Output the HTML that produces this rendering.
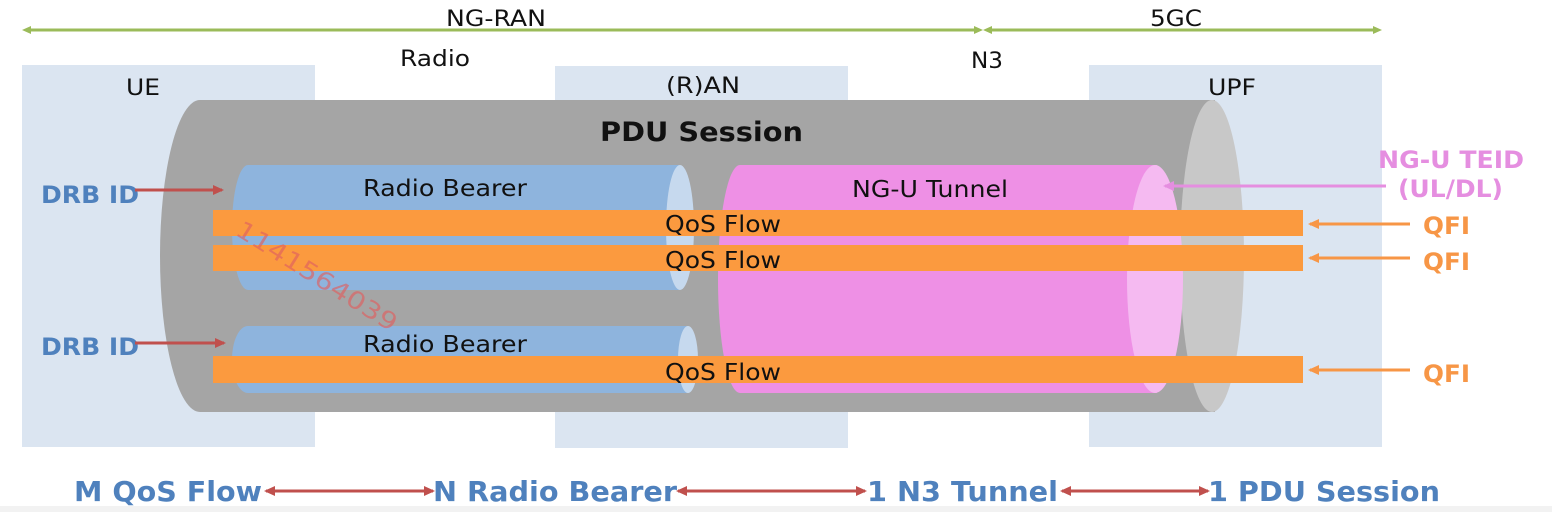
<!DOCTYPE html>
<html><head><meta charset="utf-8"><style>
html,body{margin:0;padding:0;background:#fff;width:1552px;height:512px;overflow:hidden}
svg{display:block}
text{font-family:"DejaVu Sans","Liberation Sans",sans-serif}
</style></head><body>
<svg width="1552" height="512" viewBox="0 0 1552 512" xmlns="http://www.w3.org/2000/svg">
<defs>
<marker id="g" markerWidth="10" markerHeight="10" refX="5" refY="5" orient="auto-start-reverse" markerUnits="userSpaceOnUse"><path d="M0,1 L9,5 L0,9 z" fill="#9bbb59"/></marker>
<marker id="r" markerWidth="12" markerHeight="12" refX="9" refY="6" orient="auto-start-reverse" markerUnits="userSpaceOnUse"><path d="M0,1 L11,6 L0,11 z" fill="#c0504d"/></marker>
<marker id="o" markerWidth="12" markerHeight="12" refX="9" refY="6" orient="auto" markerUnits="userSpaceOnUse"><path d="M0,1 L11,6 L0,11 z" fill="#f79646"/></marker>
<marker id="p" markerWidth="12" markerHeight="12" refX="9" refY="6" orient="auto" markerUnits="userSpaceOnUse"><path d="M0,1 L11,6 L0,11 z" fill="#e58ee0"/></marker>
</defs>
<line x1="26" y1="30" x2="979" y2="30" stroke="#9bbb59" stroke-width="3" marker-start="url(#g)" marker-end="url(#g)"/>
<line x1="987" y1="30" x2="1378" y2="30" stroke="#9bbb59" stroke-width="3" marker-start="url(#g)" marker-end="url(#g)"/>
<text x="446" y="26" font-size="22" textLength="100" lengthAdjust="spacingAndGlyphs" fill="#111">NG-RAN</text>
<text x="1150" y="26" font-size="22" textLength="52" lengthAdjust="spacingAndGlyphs" fill="#111">5GC</text>
<rect x="22" y="65" width="293" height="382" fill="#dbe5f1"/>
<rect x="555" y="66" width="293" height="382" fill="#dbe5f1"/>
<rect x="1089" y="65" width="293" height="382" fill="#dbe5f1"/>
<text x="400" y="66" font-size="22" textLength="70" lengthAdjust="spacingAndGlyphs" fill="#111">Radio</text>
<text x="126" y="95" font-size="22" textLength="34" lengthAdjust="spacingAndGlyphs" fill="#111">UE</text>
<text x="666" y="93" font-size="22" textLength="74" lengthAdjust="spacingAndGlyphs" fill="#111">(R)AN</text>
<text x="971" y="68" font-size="22" textLength="32" lengthAdjust="spacingAndGlyphs" fill="#111">N3</text>
<text x="1208" y="95" font-size="22" textLength="48" lengthAdjust="spacingAndGlyphs" fill="#111">UPF</text>
<path d="M200,100 L1215,100 L1215,412 L200,412 A40,156 0 0 1 200,100 z" fill="#a5a5a5"/>
<ellipse cx="1212" cy="256" rx="32" ry="156" fill="#c8c8c8"/>
<text x="600" y="141" font-size="27" font-weight="bold" textLength="203" lengthAdjust="spacingAndGlyphs" fill="#111">PDU Session</text>
<path d="M248,165 L680,165 L680,290 L248,290 A16,62.5 0 0 1 248,165 z" fill="#8eb4dd"/>
<ellipse cx="680" cy="227.5" rx="14" ry="62.5" fill="#c6d9ee"/>
<path d="M248,326 L688,326 L688,393 L248,393 A16,33.5 0 0 1 248,326 z" fill="#8eb4dd"/>
<ellipse cx="688" cy="359.5" rx="10" ry="33.5" fill="#c6d9ee"/>
<text x="363" y="196" font-size="23" textLength="164" lengthAdjust="spacingAndGlyphs" fill="#111">Radio Bearer</text>
<text x="363" y="352" font-size="23" textLength="164" lengthAdjust="spacingAndGlyphs" fill="#111">Radio Bearer</text>
<path d="M740,165 L1157,165 L1157,393 L740,393 A22,114 0 0 1 740,165 z" fill="#ee90e5"/>
<ellipse cx="1155" cy="279" rx="28" ry="114" fill="#f5baf1"/>
<text x="852" y="197" font-size="23" textLength="156" lengthAdjust="spacingAndGlyphs" fill="#111">NG-U Tunnel</text>
<rect x="213" y="210" width="1090" height="26" fill="#fb9a3f"/>
<rect x="213" y="245" width="1090" height="26" fill="#fb9a3f"/>
<rect x="213" y="356" width="1090" height="27" fill="#fb9a3f"/>
<text x="665" y="232" font-size="23" textLength="116" lengthAdjust="spacingAndGlyphs" fill="#111">QoS Flow</text>
<text x="665" y="268" font-size="23" textLength="116" lengthAdjust="spacingAndGlyphs" fill="#111">QoS Flow</text>
<text x="665" y="380" font-size="23" textLength="116" lengthAdjust="spacingAndGlyphs" fill="#111">QoS Flow</text>
<text x="234" y="234" font-size="24" fill="#e06060" opacity="0.65" textLength="185" lengthAdjust="spacingAndGlyphs" transform="rotate(32 234 234)">1141564039</text>
<text x="41" y="203" font-size="24" font-weight="bold" textLength="98" lengthAdjust="spacingAndGlyphs" fill="#4f81bd">DRB ID</text>
<text x="41" y="355" font-size="24" font-weight="bold" textLength="98" lengthAdjust="spacingAndGlyphs" fill="#4f81bd">DRB ID</text>
<line x1="135" y1="190" x2="222" y2="190" stroke="#c0504d" stroke-width="3" marker-end="url(#r)"/>
<line x1="135" y1="343" x2="224" y2="343" stroke="#c0504d" stroke-width="3" marker-end="url(#r)"/>
<text x="1378" y="168" font-size="24" font-weight="bold" textLength="146" lengthAdjust="spacingAndGlyphs" fill="#e58ee0">NG-U TEID</text>
<text x="1398" y="197" font-size="24" font-weight="bold" textLength="105" lengthAdjust="spacingAndGlyphs" fill="#e58ee0">(UL/DL)</text>
<line x1="1386" y1="186" x2="1165" y2="186" stroke="#e58ee0" stroke-width="3" marker-end="url(#p)"/>
<text x="1423" y="234" font-size="24" font-weight="bold" textLength="47" lengthAdjust="spacingAndGlyphs" fill="#f79646">QFI</text>
<text x="1423" y="270" font-size="24" font-weight="bold" textLength="47" lengthAdjust="spacingAndGlyphs" fill="#f79646">QFI</text>
<text x="1423" y="382" font-size="24" font-weight="bold" textLength="47" lengthAdjust="spacingAndGlyphs" fill="#f79646">QFI</text>
<line x1="1410" y1="224" x2="1310" y2="224" stroke="#f79646" stroke-width="3" marker-end="url(#o)"/>
<line x1="1410" y1="258" x2="1310" y2="258" stroke="#f79646" stroke-width="3" marker-end="url(#o)"/>
<line x1="1410" y1="370" x2="1310" y2="370" stroke="#f79646" stroke-width="3" marker-end="url(#o)"/>
<text x="74" y="501" font-size="28" font-weight="bold" textLength="188" lengthAdjust="spacingAndGlyphs" fill="#4f81bd">M QoS Flow</text>
<text x="433" y="501" font-size="28" font-weight="bold" textLength="244" lengthAdjust="spacingAndGlyphs" fill="#4f81bd">N Radio Bearer</text>
<text x="867" y="501" font-size="28" font-weight="bold" textLength="191" lengthAdjust="spacingAndGlyphs" fill="#4f81bd">1 N3 Tunnel</text>
<text x="1208" y="501" font-size="28" font-weight="bold" textLength="232" lengthAdjust="spacingAndGlyphs" fill="#4f81bd">1 PDU Session</text>
<line x1="266" y1="491" x2="433" y2="491" stroke="#c0504d" stroke-width="3" marker-start="url(#r)" marker-end="url(#r)"/>
<line x1="678" y1="491" x2="865" y2="491" stroke="#c0504d" stroke-width="3" marker-start="url(#r)" marker-end="url(#r)"/>
<line x1="1062" y1="491" x2="1208" y2="491" stroke="#c0504d" stroke-width="3" marker-start="url(#r)" marker-end="url(#r)"/>
<rect x="0" y="506" width="1552" height="6" fill="#f2f2f2"/>
</svg>
</body></html>
